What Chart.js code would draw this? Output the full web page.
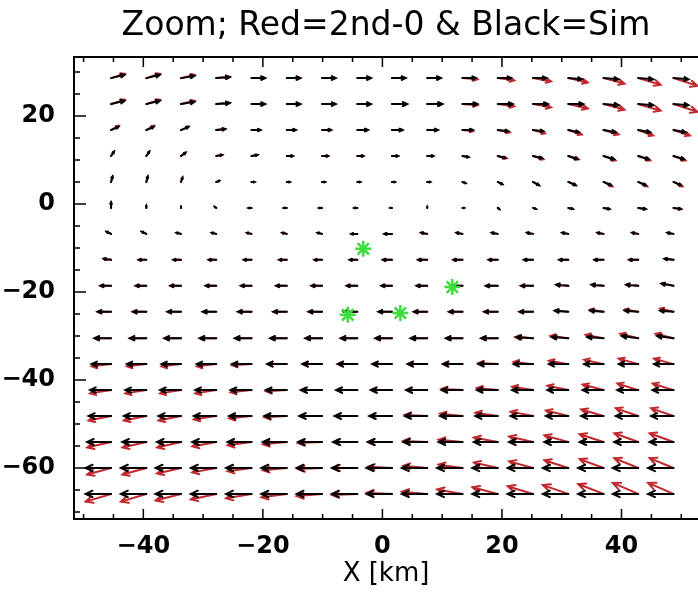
<!DOCTYPE html>
<html lang="en">
  <head>
    <meta charset="UTF-8" />
    <title>Zoom vectors</title>
    <script src="https://cdn.jsdelivr.net/npm/chart.js@4.4.1/dist/chart.umd.min.js"></script>
    <style>
      body { margin: 0; overflow: hidden; background: #fff; }
    </style>
  </head>
  <body>
    <canvas id="myChart" width="698" height="600"></canvas>

    <script>
      // grid of the vector field (km)
      const gridX = [-45.4, -39.5, -33.7, -27.8, -21.9, -16.0, -10.1, -4.2, 1.6, 7.5, 13.4, 19.3, 25.2, 31.1, 37.0, 42.8, 48.7];
      const gridY = [28.6, 22.7, 16.8, 10.9, 5.0, -0.9, -6.8, -12.7, -18.6, -24.5, -30.5, -36.4, -42.3, -48.2, -54.1, -60.0, -65.9];

      // Black = Sim (rows top to bottom)
      const uSim = [
        [9, 9, 9, 9, 9, 9, 9, 9, 9, 9, 9, 9, 9, 9, 10, 10, 10],
        [9, 9, 9, 9, 9, 9, 9, 9, 10, 10, 10, 10, 10, 10, 10, 10, 10],
        [5, 5, 5, 6, 6, 6, 6, 7, 7, 7, 7, 7, 7, 7, 8, 8, 8],
        [2, 2, 3, 4, 4, 4, 4, 4, 4, 4, 4, 5, 6, 6, 7, 7, 7],
        [1, 1, 1, 2, 2, 2, 2, 2, 2, 2, 2, 3, 4, 5, 5, 5, 5],
        [0, 0, 0, -1, -2, -2, -2, -2, -1, 0, 1, 1, 2, 3, 4, 5, 5],
        [-3, -3, -3, -3, -3, -3, -3, -4, -5, -4, -4, -4, -4, -4, -4, -4, -4],
        [-5, -5, -5, -5, -5, -5, -5, -5, -6, -6, -6, -6, -6, -6, -6, -6, -6],
        [-7, -7, -7, -7, -7, -7, -7, -7, -7, -7, -7, -8, -8, -8, -8, -8, -8],
        [-9, -9, -9, -9, -9, -9, -9, -9, -9, -9, -9, -9, -9, -9, -9, -9, -9],
        [-11, -11, -11, -11, -11, -11, -11, -11, -11, -11, -11, -11, -11, -11, -11, -11, -11],
        [-13, -13, -13, -13, -13, -13, -13, -13, -13, -13, -13, -13, -13, -13, -13, -13, -13],
        [-14, -14, -14, -14, -14, -14, -14, -14, -14, -14, -14, -14, -14, -14, -14, -14, -14],
        [-15, -15, -15, -15, -15, -15, -15, -15, -15, -15, -15, -15, -15, -15, -15, -15, -15],
        [-16, -16, -16, -16, -16, -16, -16, -16, -16, -16, -16, -16, -16, -16, -16, -16, -16],
        [-17, -17, -17, -17, -17, -17, -17, -17, -17, -17, -17, -17, -17, -17, -17, -17, -17],
        [-17, -17, -17, -17, -17, -17, -17, -17, -17, -17, -17, -17, -17, -17, -17, -17, -17],
      ];
      const vSim = [
        [3, 3, 2, 1, 0, 0, 0, 0, 0, 0, 0, 0, 0, -1, -1, -1, -1],
        [3, 3, 2, 1, 0, 0, 0, 0, 0, 0, 0, 0, 0, 0, -1, -1, -1],
        [3, 3, 3, 1, 0, 0, 0, 0, 0, 0, 0, -1, -1, -2, -2, -2, -2],
        [4, 4, 3, 1, 1, 0, 0, 0, 0, 0, -1, -2, -2, -3, -3, -3, -3],
        [5, 5, 4, 1, 0, 0, 0, 0, 0, 0, -1, -2, -3, -3, -3, -3, -3],
        [5, 2, 1, 1, 0, 0, 0, 0, 0, 1, 0, -1, -1, -1, -1, -1, -1],
        [2, 2, 1, 1, 1, 1, 1, 0, 0, 1, 1, 1, 1, 1, 1, 1, 1],
        [1, 0, 0, 0, 0, 0, 0, 0, 0, 0, 0, 0, 0, 0, 0, 0, 1],
        [0, 0, 0, 0, 0, 0, 0, 0, 0, 0, 0, 0, 0, 1, 1, 1, 2],
        [0, 0, 0, 0, 0, 0, 0, 0, 0, 0, 0, 0, 0, 1, 1, 1, 1],
        [0, 0, 0, 0, 0, 0, 0, 0, 0, 0, 0, 0, 1, 1, 1, 2, 2],
        [0, 0, 0, 0, 0, 0, 0, 0, 0, 0, 0, 0, 0, 0, 0, 0, 0],
        [0, 0, 0, 0, 0, 0, 0, 0, 0, 0, 0, 0, 0, 0, 0, 0, 0],
        [0, 0, 0, 0, 0, 0, 0, 0, 0, 0, 0, 0, 0, 0, 0, 0, 0],
        [0, 0, 0, 0, 0, 0, 0, 0, 0, 0, 0, 0, 0, 0, 0, 0, 0],
        [0, 0, 0, 0, 0, 0, 0, 0, 0, 0, 0, 0, 0, 0, 0, 0, 0],
        [0, 0, 0, 0, 0, 0, 0, 0, 0, 0, 0, 0, 0, 0, 0, 0, 0],
      ];

      // Red = 2nd-order fit
      const uFit = [
        [9, 9, 9, 9, 9, 9, 9, 9, 9, 9, 10, 11, 12, 13, 14, 15, 16],
        [9, 9, 9, 9, 9, 9, 9, 9, 10, 10, 10, 11, 12, 13, 14, 15, 16],
        [5, 5, 5, 6, 6, 6, 6, 7, 7, 7, 7, 8, 8, 9, 10, 10, 11],
        [2, 2, 3, 4, 4, 4, 4, 4, 4, 4, 4, 6, 7, 7, 8, 8, 8],
        [1, 1, 1, 2, 2, 2, 2, 2, 2, 2, 2, 3, 4, 5, 6, 6, 6],
        [0, 0, 0, -1, -2, -2, -2, -2, -1, 0, 1, 1, 2, 3, 4, 5, 5],
        [-3, -3, -3, -3, -3, -3, -3, -4, -5, -4, -4, -4, -4, -4, -4, -4, -4],
        [-5, -5, -5, -5, -5, -5, -5, -5, -6, -6, -6, -6, -6, -6, -6, -6, -6],
        [-7, -7, -7, -7, -7, -7, -7, -7, -7, -7, -7, -8, -8, -8, -8, -8, -8],
        [-9, -9, -9, -9, -9, -9, -9, -9, -9, -9, -9, -9, -9, -9, -9, -9, -9],
        [-11, -11, -11, -11, -11, -11, -11, -11, -11, -11, -11, -11, -12, -12, -12, -12, -12],
        [-13, -13, -13, -13, -13, -13, -13, -13, -13, -13, -13, -13, -13, -13, -13, -13, -13],
        [-14, -14, -14, -14, -14, -14, -14, -14, -14, -14, -14, -14, -14, -14, -14, -14, -14],
        [-15, -15, -15, -15, -15, -15, -15, -15, -15, -15, -15, -15, -15, -15, -15, -15, -15],
        [-16, -16, -16, -16, -16, -16, -16, -16, -16, -16, -16, -16, -16, -16, -16, -16, -16],
        [-16, -16, -16, -16, -16, -16, -16, -16, -16, -16, -16, -16, -16, -16, -16, -16, -16],
        [-17, -17, -17, -17, -17, -17, -17, -17, -17, -17, -17, -17, -17, -17, -17, -17, -17],
      ];
      const vFit = [
        [4, 4, 3, 1, 0, 0, 0, 0, 0, 0, -1, -2, -3, -4, -5, -6, -7],
        [4, 4, 3, 1, 0, 0, 0, 0, 0, 0, -1, -2, -3, -4, -5, -6, -7],
        [4, 4, 3, 1, 0, 0, 0, 0, 0, 0, -1, -2, -3, -4, -4, -5, -5],
        [4, 4, 3, 1, 1, 0, 0, 0, 0, 0, -1, -2, -3, -3, -4, -4, -4],
        [5, 5, 4, 1, 0, 0, 0, 0, 0, 0, -1, -2, -3, -3, -4, -4, -4],
        [5, 2, 1, 1, 0, 0, 0, 0, 0, 1, 0, -1, -1, -1, -1, -1, -1],
        [2, 2, 1, 1, 1, 1, 1, 0, 0, 1, 1, 1, 1, 1, 1, 1, 1],
        [1, 0, 0, 0, 0, 0, 0, 0, 0, 0, 0, 0, 0, 0, 0, 0, 1],
        [0, 0, 0, 0, 0, 0, 0, 0, 0, 0, 0, 0, 0, 1, 1, 1, 2],
        [0, 0, 0, 0, 0, 0, 0, 0, 0, 0, 0, 0, 0, 1, 2, 2, 3],
        [0, 0, 0, 0, 0, 0, 0, 0, 0, 0, 0, 0, 1, 2, 3, 4, 4],
        [-2, -2, -2, -2, -1, 0, 0, 0, 0, 0, 0, 1, 2, 3, 4, 5, 5],
        [-3, -3, -3, -3, -2, -1, 0, 0, 0, 0, 1, 2, 3, 4, 5, 6, 6],
        [-4, -4, -4, -3, -2, -1, 0, 0, 0, 1, 2, 3, 4, 5, 6, 7, 7],
        [-5, -5, -5, -4, -3, -2, -1, 0, 0, 1, 2, 4, 5, 6, 7, 8, 8],
        [-6, -6, -5, -4, -3, -2, -1, 0, 1, 2, 3, 5, 6, 7, 8, 9, 9],
        [-7, -7, -6, -5, -4, -3, -2, -1, 1, 2, 4, 6, 7, 8, 9, 10, 10],
      ];

      // green stations
      const starX = [-3.2, -5.8, 3.0, 11.7];
      const starY = [-10.2, -25.2, -24.8, -18.9];

      const xTicks = [-40, -20, 0, 20, 40];
      const yTicks = [-60, -40, -20, 0, 20];
      const arrowScale = 0.25; // km per velocity unit

      const fontFam = "'DejaVu Sans', sans-serif";

      function drawArrows(chart, us, vs, color) {
        const c = chart.ctx;
        const xs = chart.scales.x;
        const ys = chart.scales.y;
        c.save();
        c.strokeStyle = color;
        c.lineWidth = 2;
        c.lineCap = "round";
        for (let j = 0; j < gridY.length; j++) {
          for (let i = 0; i < gridX.length; i++) {
            const x0 = xs.getPixelForValue(gridX[i]);
            const y0 = ys.getPixelForValue(gridY[j]);
            const x1 = xs.getPixelForValue(gridX[i] + us[j][i] * arrowScale);
            const y1 = ys.getPixelForValue(gridY[j] + vs[j][i] * arrowScale);
            const dx = x1 - x0, dy = y1 - y0;
            const len = Math.hypot(dx, dy);
            if (len < 0.5) continue;
            const ang = Math.atan2(dy, dx);
            const h = 0.3 * len;
            const a = (25 * Math.PI) / 180;
            c.beginPath();
            c.moveTo(x0, y0);
            c.lineTo(x1, y1);
            c.moveTo(x1 - h * Math.cos(ang - a), y1 - h * Math.sin(ang - a));
            c.lineTo(x1, y1);
            c.lineTo(x1 - h * Math.cos(ang + a), y1 - h * Math.sin(ang + a));
            c.stroke();
          }
        }
        c.restore();
      }

      const vectorPlugin = {
        id: "vectors",
        beforeDatasetsDraw(chart) {
          drawArrows(chart, uFit, vFit, "#c0282d");
          drawArrows(chart, uSim, vSim, "#000000");
        },
      };

      // IDL style axes with inward ticks (right side falls outside the window)
      const framePlugin = {
        id: "frame",
        afterDraw(chart) {
          const c = chart.ctx;
          const { left, right, top, bottom } = chart.chartArea;
          const xs = chart.scales.x;
          const ys = chart.scales.y;
          c.save();
          c.strokeStyle = "#000";
          c.lineWidth = 2;
          c.beginPath();
          c.moveTo(right, top);
          c.lineTo(left, top);
          c.lineTo(left, bottom);
          c.lineTo(right, bottom);
          c.stroke();
          c.lineWidth = 1.5;
          c.beginPath();
          for (let v = -50; v <= 50; v += 5) {
            const px = xs.getPixelForValue(v);
            if (px < left || px > right) continue;
            const len = v % 20 === 0 ? 10 : 5;
            c.moveTo(px, bottom);
            c.lineTo(px, bottom - len);
            c.moveTo(px, top);
            c.lineTo(px, top + len);
          }
          for (let v = -70; v <= 30; v += 5) {
            const py = ys.getPixelForValue(v);
            if (py < top || py > bottom) continue;
            const len = v % 20 === 0 ? 12 : 6;
            c.moveTo(left, py);
            c.lineTo(left + len, py);
          }
          c.stroke();
          c.restore();
        },
      };

      const minusFmt = (v) => (v < 0 ? "\u2212" + Math.abs(v) : String(v));

      new Chart(document.getElementById("myChart"), {
        type: "scatter",
        data: {
          datasets: [
            {
              label: "stations",
              data: starX.map((x, i) => ({ x: x, y: starY[i] })),
              pointStyle: "star",
              radius: 8,
              borderColor: "#3fdc3f",
              backgroundColor: "#3fdc3f",
              borderWidth: 2.5,
            },
          ],
        },
        options: {
          responsive: false,
          animation: false,
          layout: { autoPadding: false, padding: 0 },
          plugins: {
            legend: { display: false },
            tooltip: { enabled: false },
            title: {
              display: true,
              text: "Zoom; Red=2nd-0 & Black=Sim",
              color: "#000",
              fullSize: false,
              font: { family: fontFam, size: 33, weight: "normal" },
              padding: { top: 7, bottom: 10.4 },
            },
          },
          scales: {
            x: {
              type: "linear",
              min: -51.6,
              max: 52.8,
              grid: { display: false, drawTicks: false },
              border: { display: false },
              afterBuildTicks: (s) => {
                s.ticks = xTicks.map((v) => ({ value: v }));
              },
              afterFit: (s) => {
                s.height = 81;
                s.paddingLeft = 0;
                s.paddingRight = 0;
              },
              ticks: {
                color: "#000",
                padding: 13,
                maxRotation: 0,
                font: { family: fontFam, size: 24, weight: "bold" },
                callback: minusFmt,
              },
              title: {
                display: true,
                text: "X [km]",
                color: "#000",
                font: { family: fontFam, size: 26, weight: "normal" },
                padding: { top: 0, bottom: 10 },
              },
            },
            y: {
              type: "linear",
              min: -71.6,
              max: 33.4,
              grid: { display: false, drawTicks: false },
              border: { display: false },
              afterBuildTicks: (s) => {
                s.ticks = yTicks.map((v) => ({ value: v }));
              },
              afterFit: (s) => {
                s.width = 74;
                s.paddingTop = 0;
                s.paddingBottom = 0;
              },
              ticks: {
                color: "#000",
                padding: 19,
                font: { family: fontFam, size: 24, weight: "bold" },
                callback: minusFmt,
              },
            },
          },
        },
        plugins: [vectorPlugin, framePlugin],
      });
    </script>
  </body>
</html>
